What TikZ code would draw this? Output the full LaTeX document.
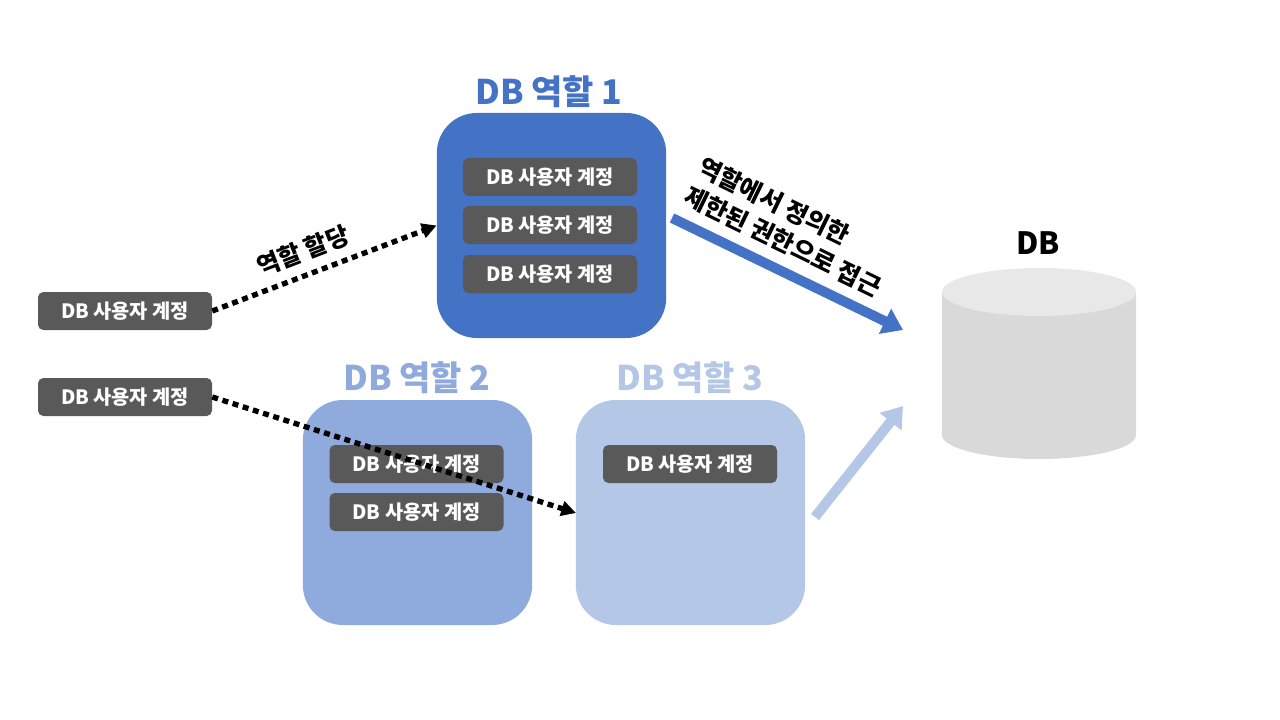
\documentclass[tikz,border=0pt]{standalone}
\usepackage{fontspec}
\setmainfont{Noto Sans CJK KR}
\usetikzlibrary{arrows.meta}
\definecolor{RoleOne}{HTML}{4472C4}
\definecolor{RoleTwo}{HTML}{8FAADC}
\definecolor{RoleThree}{HTML}{B4C7E7}
\definecolor{UserGray}{HTML}{595959}
\definecolor{DbTop}{HTML}{E8E8E8}
\definecolor{DbBody}{HTML}{D9D9D9}

\begin{document}
\begin{tikzpicture}[x=0.75pt, y=-0.75pt,
    user/.style={rectangle, fill=UserGray, rounded corners=4pt, text=white,
      minimum width=130.5pt, minimum height=28.5pt, inner sep=0pt,
      font=\fontsize{14.8}{17}\selectfont\bfseries},
    role/.style={rectangle, rounded corners=30pt, minimum width=172pt,
      minimum height=168.75pt, inner sep=0pt},
    title/.style={font=\fontsize{25.5}{30}\selectfont\bfseries},
    assign/.style={line width=4pt, dash pattern=on 4.5pt off 3.5pt,
      -{Triangle[length=11pt, width=11pt]}}]
      \useasboundingbox (0,0) rectangle (1280,720);

      % roles
      \node (R1) [role, fill=RoleOne] at (551.5, 225.5) {};
      \node (R2) [role, fill=RoleTwo] at (417.5, 512.5) {};
      \node (R3) [role, fill=RoleThree] at (690.5, 512.5) {};
      \node (T1) [title, text=RoleOne] at (549, 92) {DB 역할 1};
      \node (T2) [title, text=RoleTwo] at (417, 378) {DB 역할 2};
      \node (T3) [title, text=RoleThree] at (690, 378) {DB 역할 3};

      % accounts in roles
      \node (U1a) [user] at (550, 177) {DB 사용자 계정};
      \node (U1b) [user] at (550, 225) {DB 사용자 계정};
      \node (U1c) [user] at (550, 274) {DB 사용자 계정};
      \node (U2a) [user] at (416.5, 464) {DB 사용자 계정};
      \node (U2b) [user] at (416.5, 512) {DB 사용자 계정};
      \node (U3a) [user] at (690, 464) {DB 사용자 계정};

      % free accounts
      \node (A1) [user] at (125, 311) {DB 사용자 계정};
      \node (A2) [user] at (125, 397) {DB 사용자 계정};

      % database
      \fill[DbBody] (942, 292) -- (942, 435) arc[start angle=180, end angle=360,
        x radius=97, y radius=-24] -- (1136, 292) -- cycle;
      \fill[DbTop] (1039, 292) ellipse[x radius=97, y radius=24];
      \node (DB) [font=\fontsize{23}{27}\selectfont\bfseries] at (1038, 243) {DB};

      \coordinate (P1s) at (672, 218);
      \coordinate (P1e) at (903, 330);
      \coordinate (P3s) at (815, 517);
      \coordinate (P3e) at (903, 406);

      \draw[assign] (A1.east) -- (R1.west);
      \draw[assign] (A2.east) -- (576, 513);
      \draw[RoleOne, line width=7.5pt, -{Triangle[length=15pt, width=20pt]}] (P1s) -- (P1e);
      \draw[RoleThree, line width=7.5pt, -{Triangle[length=15pt, width=20pt]}] (P3s) -- (P3e);

      \node (L1) [rotate=21, font=\fontsize{18.5}{22}\selectfont\bfseries] at (303, 251) {역할 할당};
      \node (L2) [rotate=-26, align=left, font=\fontsize{18.5}{24}\selectfont\bfseries] at (790, 227) {
        역할에서 정의한 \\
        제한된 권한으로 접근
      };
    \end{tikzpicture}
\end{document}
